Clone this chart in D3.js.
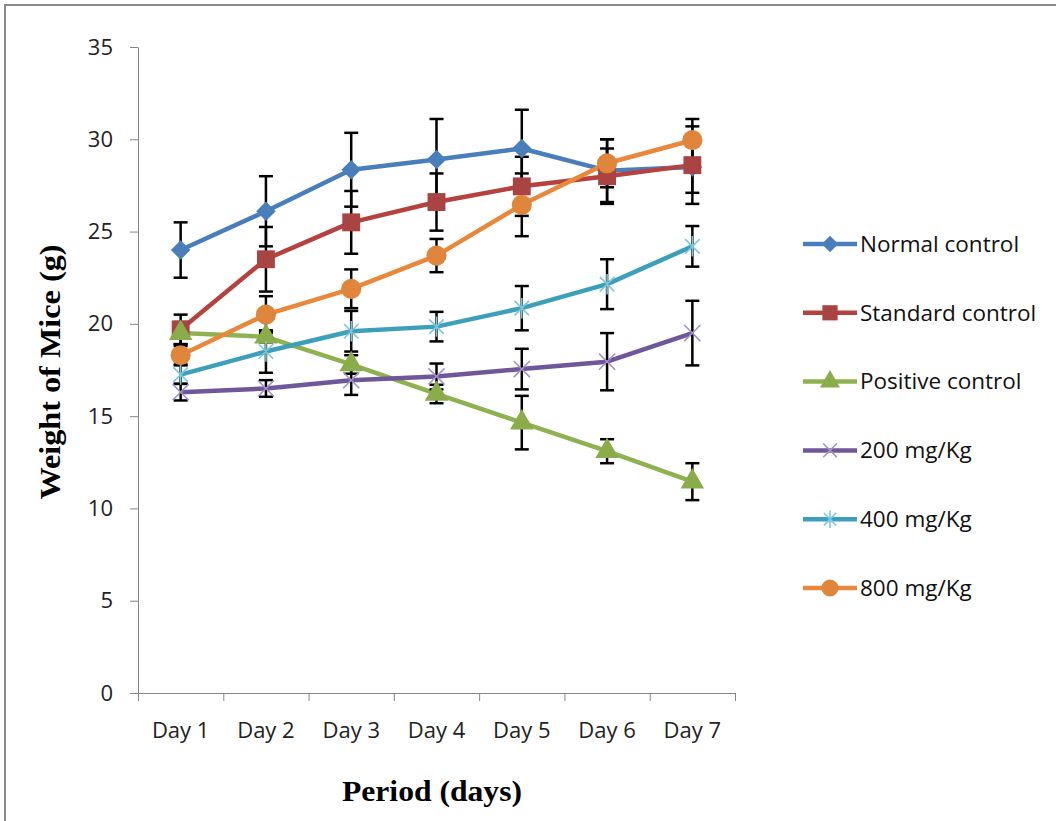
<!DOCTYPE html>
<html>
<head>
<meta charset="utf-8">
<script src="https://cdn.jsdelivr.net/npm/d3@7"></script>
<style>
  body { margin: 0; background: #fff; }
  svg { display: block; }
</style>
</head>
<body>
<svg id="chart"></svg>
<script>
// values
const days = ['Day 1', 'Day 2', 'Day 3', 'Day 4', 'Day 5', 'Day 6', 'Day 7'];
const seriesNames = ['Normal control', 'Standard control', 'Positive control', '200 mg/Kg', '400 mg/Kg', '800 mg/Kg'];
const yTicks = [0, 5, 10, 15, 20, 25, 30, 35];

const normalControl   = [24.0, 26.1, 28.35, 28.9, 29.5, 28.3, 28.5];
const standardControl = [19.7, 23.5, 25.5, 26.6, 27.45, 28.0, 28.6];
const positiveControl = [19.5, 19.3, 17.8, 16.2, 14.65, 13.1, 11.45];
const dose200 = [16.3, 16.5, 16.95, 17.15, 17.55, 17.95, 19.5];
const dose400 = [17.25, 18.5, 19.6, 19.85, 20.85, 22.15, 24.2];
const dose800 = [18.3, 20.5, 21.9, 23.7, 26.45, 28.7, 29.95];

const normalErr   = [1.5, 1.9, 2.0, 2.2, 2.1, 1.7, 1.4];
const standardErr = [0.8, 1.75, 1.7, 1.55, 1.6, 1.5, 2.1];
const positiveErr = [0.6, 0.3, 0.5, 0.5, 1.45, 0.65, 1.0];
const dose200Err  = [0.45, 0.45, 0.8, 0.7, 1.1, 1.55, 1.75];
const dose400Err  = [0.5, 1.15, 1.1, 0.8, 1.2, 1.35, 1.1];
const dose800Err  = [0.5, 1.0, 1.05, 0.9, 1.7, 1.3, 1.15];

const width = 1056, height = 821;
const margin = {top: 47, right: 321, bottom: 128, left: 138};

const svg = d3.select('#chart').attr('width', width).attr('height', height);

// outer frame
svg.append('rect')
    .attr('x', 5).attr('y', 5)
    .attr('width', width + 10).attr('height', height + 10)
    .attr('fill', 'none').attr('stroke', '#8a8a8a').attr('stroke-width', 2);

const chart = svg.append('g')
    .attr('transform', `translate(${margin.left}, ${margin.top})`);

const innerW = width - margin.left - margin.right;
const innerH = height - margin.top - margin.bottom;

const xscale = d3.scaleBand().domain(days).range([0, innerW]);
const xpos = d => xscale(d) + xscale.bandwidth() / 2;
const yscale = d3.scaleLinear().domain([0, 35]).range([innerH, 0]);

const axisColor = '#868686';
const tickFont = '"Open Sans", Lato, sans-serif';

// y axis
const yaxis = chart.append('g')
    .call(d3.axisLeft(yscale).tickValues(yTicks).tickSize(8).tickSizeOuter(0).tickPadding(17));
yaxis.select('.domain').attr('stroke', axisColor);
yaxis.selectAll('.tick line').attr('stroke', axisColor);
yaxis.selectAll('.tick text')
    .style('font-family', tickFont).style('font-size', '22px').attr('fill', '#222');

// x axis: ticks between categories, labels under the centres
const boundary = d3.scaleLinear().domain([0, days.length]).range([0, innerW]);
const xticks = chart.append('g')
    .attr('transform', `translate(0, ${innerH})`)
    .call(d3.axisBottom(boundary).tickValues(d3.range(days.length + 1)).tickSize(8).tickSizeOuter(0).tickFormat(''));
xticks.select('.domain').attr('stroke', axisColor);
xticks.selectAll('.tick line').attr('stroke', axisColor);

const xlabels = chart.append('g')
    .attr('transform', `translate(0, ${innerH})`)
    .call(d3.axisBottom(xscale).tickSize(0).tickPadding(29));
xlabels.select('.domain').remove();
xlabels.selectAll('.tick text')
    .style('font-family', tickFont).style('font-size', '22px').attr('fill', '#222');

// axis titles
svg.append('text')
    .attr('x', 432).attr('y', 801)
    .attr('text-anchor', 'middle')
    .attr('textLength', 180).attr('lengthAdjust', 'spacingAndGlyphs')
    .style('font-family', '"Liberation Serif", "Times New Roman", serif')
    .style('font-weight', 'bold').style('font-size', '30px')
    .text('Period (days)');

svg.append('text')
    .attr('transform', 'translate(60, 372) rotate(-90)')
    .attr('text-anchor', 'middle')
    .attr('textLength', 255).attr('lengthAdjust', 'spacingAndGlyphs')
    .style('font-family', '"Liberation Serif", "Times New Roman", serif')
    .style('font-weight', 'bold').style('font-size', '30px')
    .text('Weight of Mice (g)');

// marker shapes
const star = {
    draw(ctx, size) {
        const r = Math.sqrt(size) / 2;
        const k = r * Math.SQRT1_2;
        ctx.moveTo(0, -r); ctx.lineTo(0, r);
        ctx.moveTo(-k, -k); ctx.lineTo(k, k);
        ctx.moveTo(-k, k); ctx.lineTo(k, -k);
    }
};
const cross = {
    draw(ctx, size) {
        const r = Math.sqrt(size) / 2;
        ctx.moveTo(-r, -r); ctx.lineTo(r, r);
        ctx.moveTo(-r, r); ctx.lineTo(r, -r);
    }
};

const series = [
    {name: seriesNames[0], values: normalControl, err: normalErr, line: '#4a7ebb', fill: '#4a7ebb', type: d3.symbolSquare, size: 190, rotate: 45, stroked: false},
    {name: seriesNames[1], values: standardControl, err: standardErr, line: '#b5423f', fill: '#a94442', type: d3.symbolSquare, size: 320, rotate: 0, stroked: false},
    {name: seriesNames[2], values: positiveControl, err: positiveErr, line: '#8fb150', fill: '#8aac4a', type: d3.symbolTriangle, size: 240, rotate: 0, stroked: false},
    {name: seriesNames[3], values: dose200, err: dose200Err, line: '#6f579a', fill: '#a592c8', type: cross, size: 260, rotate: 0, stroked: true},
    {name: seriesNames[4], values: dose400, err: dose400Err, line: '#3da0ba', fill: '#7cc8da', type: star, size: 420, rotate: 0, stroked: true},
    {name: seriesNames[5], values: dose800, err: dose800Err, line: '#e9883a', fill: '#e0863c', type: d3.symbolCircle, size: 320, rotate: 0, stroked: false}
];

const line = d3.line().x(d => xpos(d.day)).y(d => yscale(d.v));

const rows = s => days.map((day, i) => ({day: day, v: s.values[i], e: s.err[i]}));

// lines
chart.selectAll('path.series-line')
    .data(series)
    .join('path')
    .attr('class', 'series-line')
    .attr('fill', 'none')
    .attr('stroke', d => d.line)
    .attr('stroke-width', 4.5)
    .attr('stroke-linejoin', 'round')
    .attr('d', d => line(rows(d)));

// error bars
const capW = 7;
series.forEach(s => {
    const g = chart.append('g').attr('class', 'errbars');
    const bars = g.selectAll('g').data(rows(s)).join('g');
    bars.append('line')
        .attr('x1', d => xpos(d.day)).attr('x2', d => xpos(d.day))
        .attr('y1', d => yscale(d.v + d.e)).attr('y2', d => yscale(d.v - d.e));
    bars.append('line')
        .attr('x1', d => xpos(d.day) - capW).attr('x2', d => xpos(d.day) + capW)
        .attr('y1', d => yscale(d.v + d.e)).attr('y2', d => yscale(d.v + d.e));
    bars.append('line')
        .attr('x1', d => xpos(d.day) - capW).attr('x2', d => xpos(d.day) + capW)
        .attr('y1', d => yscale(d.v - d.e)).attr('y2', d => yscale(d.v - d.e));
    bars.selectAll('line').attr('stroke', '#000').attr('stroke-width', 2.5);
});

// markers
function drawMarker(sel, s, scale) {
    sel.attr('d', d3.symbol().type(s.type).size(s.size * scale * scale)())
        .attr('fill', s.stroked ? 'none' : s.fill)
        .attr('stroke', s.stroked ? s.fill : 'none')
        .attr('stroke-width', s.stroked ? 1.6 : 0);
}

series.forEach(s => {
    chart.append('g').selectAll('path')
        .data(rows(s))
        .join('path')
        .attr('transform', d => `translate(${xpos(d.day)}, ${yscale(d.v)}) rotate(${s.rotate})`)
        .each(function() { drawMarker(d3.select(this), s, 1); });
});

// legend
const legend = svg.append('g').attr('transform', 'translate(803, 244)');
const item = legend.selectAll('g')
    .data(series)
    .join('g')
    .attr('transform', (d, i) => `translate(0, ${i * 68.8})`);
item.append('line')
    .attr('x1', 0).attr('x2', 54).attr('y1', 0).attr('y2', 0)
    .attr('stroke', d => d.line).attr('stroke-width', 4.5);
item.append('path')
    .attr('transform', d => `translate(27, 0) rotate(${d.rotate})`)
    .each(function(d) { drawMarker(d3.select(this), d, 0.85); });
item.append('text')
    .attr('x', 57).attr('y', 0).attr('dy', '0.35em')
    .style('font-family', tickFont).style('font-size', '22.5px').attr('fill', '#111')
    .text(d => d.name);
</script>
</body>
</html>
